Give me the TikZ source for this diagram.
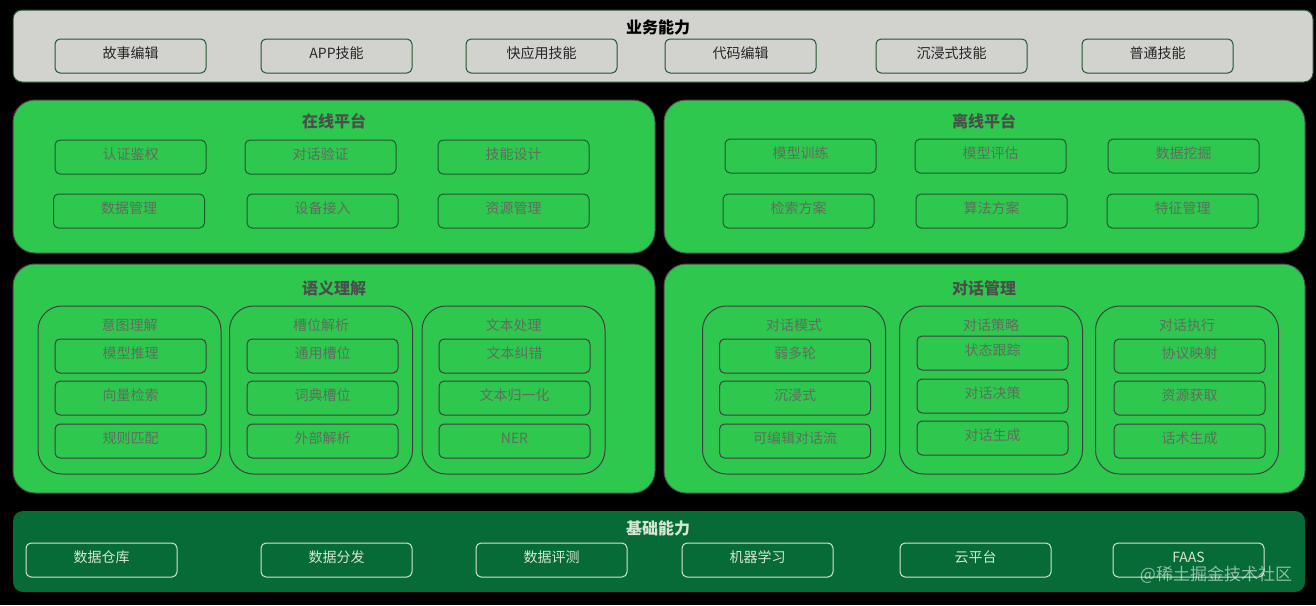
\documentclass[tikz,border=0pt]{standalone}
\usepackage{fontspec}
\setmainfont{Noto Sans CJK SC}
\usepackage{tikz}
\usetikzlibrary{backgrounds}

\definecolor{bandgray}{HTML}{D2D2CE}
\definecolor{leaf}{HTML}{2EC84E}
\definecolor{forest}{HTML}{066B37}
\definecolor{edgegreen}{HTML}{1F5A2E}
\definecolor{softtext}{HTML}{5E6E5E}
\definecolor{headtext}{HTML}{4B4F4B}
\definecolor{palegreen}{HTML}{D4E6D2}

\tikzset{
	cell/.style={draw=edgegreen, line width=1pt, rounded corners=5pt, inner sep=0pt,
		minimum width=151pt, minimum height=34pt, text height=11pt, text depth=6pt,
		font=\fontsize{14}{16}\selectfont},
	panel/.style={draw=black!70, line width=1pt, fill=leaf, rounded corners=22pt, inner sep=0pt},
	group/.style={draw=black!75, line width=1pt, rounded corners=24pt, inner sep=0pt,
		minimum width=183pt, minimum height=168pt},
	head/.style={font=\bfseries\fontsize{16}{18}\selectfont, inner sep=0pt},
	subhead/.style={font=\fontsize{14}{16}\selectfont, text=softtext, inner sep=0pt}
}

\begin{document}
\begin{tikzpicture}[x=1pt, y=-1pt]
	\fill[black] (0,0) rectangle (1316,605);
	\useasboundingbox (0,0) rectangle (1316,605);

	% business layer
	\node[draw=edgegreen, line width=1pt, fill=bandgray, rounded corners=9pt,
		minimum width=1300pt, minimum height=72pt] (biz) at (663,46) {};
	\node[head, text=black] (bizt) at (658,27) {业务能力};
	\begin{scope}[every node/.style={cell, text=black!85}]
		\node (b1) at (130.5,56) {故事编辑};
		\node (b2) at (336.5,56) {APP技能};
		\node (b3) at (541.5,56) {快应用技能};
		\node (b4) at (740.5,56) {代码编辑};
		\node (b5) at (951.5,56) {沉浸式技能};
		\node (b6) at (1157.5,56) {普通技能};
	\end{scope}

	% platforms
	\node[panel, minimum width=642pt, minimum height=153pt] (on) at (334,176.5) {};
	\node[panel, minimum width=641pt, minimum height=153pt] (off) at (984.5,176.5) {};
	\node[head, text=headtext] (ont) at (334,121) {在线平台};
	\node[head, text=headtext] (offt) at (984,121) {离线平台};
	\begin{scope}[every node/.style={cell, text=softtext}]
		\node (o1) at (130.5,157) {认证鉴权};
		\node (o2) at (320.5,157) {对话验证};
		\node (o3) at (513.5,157) {技能设计};
		\node (o4) at (129,211) {数据管理};
		\node (o5) at (322.5,211) {设备接入};
		\node (o6) at (513.5,211) {资源管理};
		\node (f1) at (800.5,156) {模型训练};
		\node (f2) at (990.5,156) {模型评估};
		\node (f3) at (1183.5,156) {数据挖掘};
		\node (f4) at (798.5,211) {检索方案};
		\node (f5) at (991.5,211) {算法方案};
		\node (f6) at (1182.5,211) {特征管理};
	\end{scope}

	% understanding and dialogue
	\node[panel, minimum width=642pt, minimum height=229pt] (nlu) at (334,378.5) {};
	\node[panel, minimum width=641pt, minimum height=229pt] (dm) at (984.5,378.5) {};
	\node[head, text=headtext] (nlut) at (334,288) {语义理解};
	\node[head, text=headtext] (dmt) at (984,288) {对话管理};

	\node[group] (g1) at (129.5,390) {};
	\node[group] (g2) at (321,390) {};
	\node[group] (g3) at (513.5,390) {};
	\node[group] (g4) at (794,390) {};
	\node[group] (g5) at (991,390) {};
	\node[group] (g6) at (1187,390) {};
	\node[subhead] (g1t) at (129.5,325) {意图理解};
	\node[subhead] (g2t) at (321,325) {槽位解析};
	\node[subhead] (g3t) at (513.5,325) {文本处理};
	\node[subhead] (g4t) at (794,325) {对话模式};
	\node[subhead] (g5t) at (991,325) {对话策略};
	\node[subhead] (g6t) at (1187,325) {对话执行};

	\begin{scope}[every node/.style={cell, draw=black!75, text=softtext}]
		\node (u1) at (130.5,356) {模型推理};
		\node (u2) at (130.5,398) {向量检索};
		\node (u3) at (130.5,441) {规则匹配};
		\node (s1) at (322.5,356) {通用槽位};
		\node (s2) at (322.5,398) {词典槽位};
		\node (s3) at (322.5,441) {外部解析};
		\node (t1) at (514.5,356) {文本纠错};
		\node (t2) at (514.5,398) {文本归一化};
		\node (t3) at (514.5,441) {NER};
		\node (m1) at (795,356) {弱多轮};
		\node (m2) at (795,398) {沉浸式};
		\node (m3) at (795,441) {可编辑对话流};
		\node (p1) at (992.5,353) {状态跟踪};
		\node (p2) at (992.5,396) {对话决策};
		\node (p3) at (992.5,438) {对话生成};
		\node (e1) at (1189.5,356) {协议映射};
		\node (e2) at (1189.5,398) {资源获取};
		\node (e3) at (1189.5,441) {话术生成};
	\end{scope}

	% base layer
	\node[fill=forest, rounded corners=10pt, inner sep=0pt,
		minimum width=1292pt, minimum height=81pt] (base) at (659,551.5) {};
	\node[head, text=palegreen] (baset) at (658,528) {基础能力};
	\begin{scope}[every node/.style={cell, draw=palegreen, text=palegreen}]
		\node (c1) at (101.5,560) {数据仓库};
		\node (c2) at (336.5,560) {数据分发};
		\node (c3) at (551.5,560) {数据评测};
		\node (c4) at (757.5,560) {机器学习};
		\node (c5) at (975.5,560) {云平台};
		\node (c6) at (1188.5,560) {FAAS};
	\end{scope}

	\node[text=white, opacity=0.55, font=\fontsize{17}{19}\selectfont, inner sep=0pt] (mark) at (1216,575) {@稀土掘金技术社区};
\end{tikzpicture}
\end{document}
